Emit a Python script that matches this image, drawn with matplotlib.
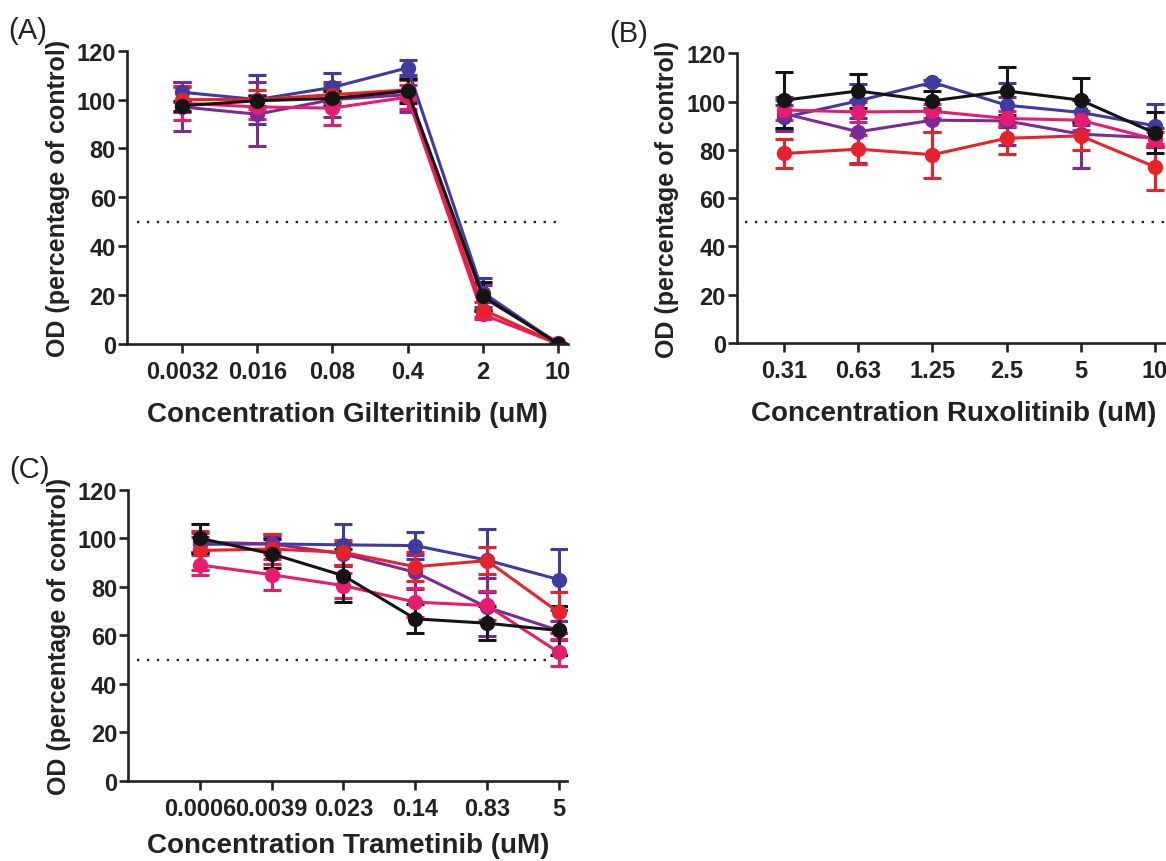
"""
Dose response of three inhibitors, OD as percentage of control
"""
import matplotlib
matplotlib.use('Agg')
import matplotlib.pyplot as plt
import numpy as np

plt.rcParams['font.family'] = ['Liberation Sans', 'DejaVu Sans']

# series colours: blue, purple, pink, red, black (black drawn on top)
colors = ['#3f3c9f', '#7e2a96', '#e81c6e', '#e8222a', '#141414']

# (A) Gilteritinib
gilt_labels = ['0.0032', '0.016', '0.08', '0.4', '2', '10']
gilt_blue = [103, 100, 105, 113, 21, 0]
gilt_blue_err = [4, 10, 6, 3, 6, 0]
gilt_purple = [97, 94, 100, 102, 19, 0.5]
gilt_purple_err = [10, 13, 7, 7, 5, 0]
gilt_pink = [98.5, 97, 96.5, 101, 12, 0]
gilt_pink_err = [7, 5, 7, 5, 2, 0]
gilt_red = [100, 100, 102, 104, 14, 0]
gilt_red_err = [5, 4, 4, 4, 3, 0]
gilt_black = [97.5, 99.5, 100.5, 103.5, 19.5, 0]
gilt_black_err = [2, 2, 3, 5, 6, 0]

# (B) Ruxolitinib
ruxo_labels = ['0.31', '0.63', '1.25', '2.5', '5', '10']
ruxo_blue = [93.5, 100.3, 108, 98.5, 95.5, 90]
ruxo_blue_err = [5, 7, 1, 9, 5, 9]
ruxo_purple = [95, 87.5, 92.3, 92, 86.5, 85]
ruxo_purple_err = [7, 13, 5, 10, 14, 4]
ruxo_pink = [96.5, 95.7, 96, 93, 92.3, 84.4]
ruxo_pink_err = [4, 4, 3, 3, 4, 3]
ruxo_red = [78.5, 80.3, 78, 84.8, 85.8, 73]
ruxo_red_err = [6, 6, 9.5, 6.5, 6, 9.5]
ruxo_black = [100.6, 104.4, 100.3, 104.4, 100.6, 87]
ruxo_black_err = [11.5, 7, 4, 10, 9, 8.5]

# (C) Trametinib
tram_labels = ['0.0006', '0.0039', '0.023', '0.14', '0.83', '5']
tram_blue = [97.5, 97.7, 97.3, 97, 91, 83]
tram_blue_err = [3, 3, 8.5, 5.5, 13, 12.6]
tram_purple = [98.4, 97.7, 93.6, 86, 71.6, 62]
tram_purple_err = [4, 4, 5, 7, 12, 4]
tram_pink = [89, 85, 80.5, 73.7, 72.3, 53]
tram_pink_err = [4, 6.5, 5, 6, 6, 5.5]
tram_red = [95, 95.6, 94.2, 88.3, 90.8, 69.5]
tram_red_err = [8, 6, 5, 6, 5.5, 8.5]
tram_black = [100, 93.6, 84.6, 66.8, 65, 62]
tram_black_err = [6, 6, 11, 6, 7, 10]


def draw_panel(ax, labels, series, errs, drug, xlim, hline_span, tag, tag_x, xpad):
    x = np.arange(len(labels))
    for y, e, c in zip(series, errs, colors):
        ax.errorbar(x, y, yerr=e, color=c, lw=2.2, marker='o', ms=10,
                    capsize=6.5, capthick=2.2, elinewidth=2.2)
    ax.hlines(50, hline_span[0], hline_span[1], colors='#222222',
              linestyles=(0, (1, 3.2)), lw=1.7, zorder=0)
    ax.set_xlim(*xlim)
    ax.set_ylim(0, 120)
    ax.set_yticks(np.arange(0, 121, 20))
    ax.set_xticks(x)
    ax.set_xticklabels(labels)
    for side in ['top', 'right']:
        ax.spines[side].set_visible(False)
    for side in ['left', 'bottom']:
        ax.spines[side].set_linewidth(1.9)
        ax.spines[side].set_color('#222222')
    ax.tick_params(width=1.9, length=6.5, color='#222222', labelsize=17,
                   labelcolor='#222222')
    ax.tick_params(axis='y', pad=1.5)
    ax.tick_params(axis='x', pad=5)
    for lab in ax.get_xticklabels() + ax.get_yticklabels():
        lab.set_fontweight('bold')
    ax.set_xlabel('Concentration %s (uM)' % drug, fontsize=20,
                  fontweight='bold', color='#222222', labelpad=xpad)
    ax.set_ylabel('OD (percentage of control)', fontsize=18,
                  fontweight='bold', color='#222222', labelpad=5)
    ax.text(tag_x, 1.07, tag, transform=ax.transAxes, fontsize=21,
            ha='left', va='center', color='#222222')


fig = plt.figure(figsize=(11.66, 8.62), dpi=100)

ax_a = fig.add_axes([0.109, 0.600, 0.378, 0.340])
draw_panel(ax_a, gilt_labels,
           [gilt_blue, gilt_purple, gilt_pink, gilt_red, gilt_black],
           [gilt_blue_err, gilt_purple_err, gilt_pink_err, gilt_red_err, gilt_black_err],
           'Gilteritinib', (-0.73, 5.13), (-0.6, 5.04), '(A)', -0.27, 13)

ax_b = fig.add_axes([0.632, 0.601, 0.371, 0.336])
draw_panel(ax_b, ruxo_labels,
           [ruxo_blue, ruxo_purple, ruxo_pink, ruxo_red, ruxo_black],
           [ruxo_blue_err, ruxo_purple_err, ruxo_pink_err, ruxo_red_err, ruxo_black_err],
           'Ruxolitinib', (-0.64, 5.2), (-0.53, 5.3), '(B)', -0.295, 13)

ax_c = fig.add_axes([0.110, 0.093, 0.3765, 0.3376])
draw_panel(ax_c, tram_labels,
           [tram_blue, tram_purple, tram_pink, tram_red, tram_black],
           [tram_blue_err, tram_purple_err, tram_pink_err, tram_red_err, tram_black_err],
           'Trametinib', (-1.0, 5.12), (-0.875, 4.89), '(C)', -0.27, 9)

fig.savefig('out.png', dpi=100)
